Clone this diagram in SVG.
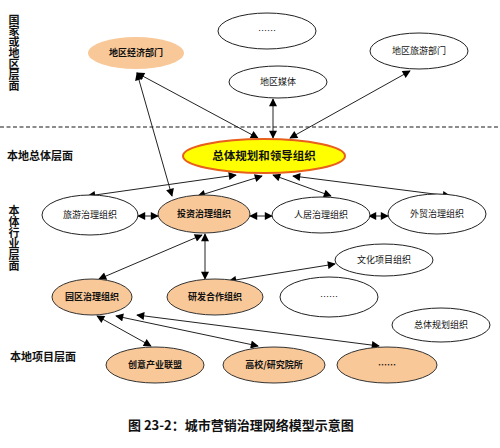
<svg xmlns="http://www.w3.org/2000/svg" width="500" height="448" viewBox="0 0 500 448">
<style>
text{font-family:"Noto Sans CJK SC","Noto Sans",sans-serif;fill:#111}
.lbl{font-size:11px;font-weight:bold}
.vert{writing-mode:vertical-rl;glyph-orientation-vertical:0}
.w ellipse{fill:#fff;stroke:#222;stroke-width:1}
.o ellipse{fill:#F9C898;stroke:#333;stroke-width:1}
.w text{font-size:9px;text-anchor:middle}
.o text{font-size:9px;font-weight:bold;text-anchor:middle}
.c line{stroke:#222;stroke-width:1;marker-end:url(#ah);marker-start:url(#ah)}
</style>
<defs>
<marker id="ah" viewBox="0 0 10 10" refX="9" refY="5" markerWidth="10" markerHeight="8" markerUnits="userSpaceOnUse" orient="auto-start-reverse">
<path d="M0,0 L10,5 L0,10 z" fill="#000"/>
</marker>
</defs>
<rect width="500" height="448" fill="#fff"/>
<!-- level labels -->
<text class="lbl vert" x="14" y="14">国家或地区层面</text>
<text class="lbl" x="7" y="160">本地总体层面</text>
<text class="lbl vert" x="14" y="205">本体行业层面</text>
<text class="lbl" x="10" y="361">本地项目层面</text>
<line x1="0" y1="127" x2="498" y2="127" stroke="#666" stroke-width="1.5" stroke-dasharray="4 2.5"/>
<!-- connectors -->
<g class="c" id="connectors">
<line x1="137" y1="73" x2="258" y2="138"/>
<line x1="137" y1="73" x2="172" y2="196"/>
<line x1="273" y1="99" x2="273" y2="138"/>
<line x1="410" y1="71" x2="290" y2="138"/>
<line x1="88" y1="196" x2="236" y2="175"/>
<line x1="198" y1="196" x2="262" y2="176"/>
<line x1="331" y1="196" x2="273" y2="175"/>
<line x1="450" y1="196" x2="293" y2="176"/>
<line x1="138" y1="216" x2="158" y2="216"/>
<line x1="250" y1="216" x2="272" y2="216"/>
<line x1="369" y1="216" x2="388" y2="216"/>
<line x1="205" y1="234" x2="205" y2="279"/>
<line x1="99" y1="279" x2="202" y2="235"/>
<line x1="229" y1="281" x2="335" y2="264"/>
<line x1="97" y1="316" x2="151" y2="346"/>
<line x1="116" y1="316" x2="258" y2="346"/>
<line x1="137" y1="315" x2="379" y2="346"/>
</g>
<!-- nodes -->
<g id="n-econ"><ellipse cx="136" cy="53" rx="48" ry="16" fill="#F9C898"/><text x="136" y="56" font-size="9" font-weight="bold" text-anchor="middle">地区经济部门</text></g>
<g id="n-dots1" class="w"><ellipse cx="267" cy="31" rx="49" ry="18"/><text x="267" y="34">……</text></g>
<g id="n-media" class="w"><ellipse cx="278" cy="82" rx="49" ry="16"/><text x="278" y="85">地区媒体</text></g>
<g id="n-tour" class="w"><ellipse cx="419" cy="51" rx="49" ry="18"/><text x="419" y="54">地区旅游部门</text></g>
<g id="n-lead"><ellipse cx="264" cy="156" rx="81" ry="17" fill="#FFFF00" stroke="#E8601C" stroke-width="2"/><text x="264" y="160" font-size="11.5" font-weight="bold" text-anchor="middle">总体规划和领导组织</text></g>
<g id="n-lvyou" class="w"><ellipse cx="90" cy="215" rx="48" ry="20"/><text x="90" y="218">旅游治理组织</text></g>
<g id="n-touzi" class="o"><ellipse cx="204" cy="214" rx="46" ry="19"/><text x="204" y="217">投资治理组织</text></g>
<g id="n-renju" class="w"><ellipse cx="321" cy="215" rx="49" ry="18"/><text x="321" y="218">人居治理组织</text></g>
<g id="n-waimao" class="w"><ellipse cx="437" cy="214" rx="49" ry="20"/><text x="437" y="217">外贸治理组织</text></g>
<g id="n-yuanqu" class="o"><ellipse cx="92" cy="297" rx="40" ry="18"/><text x="92" y="300">园区治理组织</text></g>
<g id="n-yanfa" class="o"><ellipse cx="215" cy="297" rx="48" ry="18"/><text x="215" y="300">研发合作组织</text></g>
<g id="n-wenhua" class="w"><ellipse cx="384" cy="260" rx="49" ry="16"/><text x="384" y="263">文化项目组织</text></g>
<g id="n-dots2" class="w"><ellipse cx="329" cy="297" rx="49" ry="20"/><text x="329" y="300">……</text></g>
<g id="n-zongti" class="w"><ellipse cx="441" cy="325" rx="49" ry="17"/><text x="441" y="328">总体规划组织</text></g>
<g id="n-chuangyi" class="o"><ellipse cx="155" cy="365" rx="49" ry="18"/><text x="155" y="368" font-weight="normal">创意产业联盟</text></g>
<g id="n-gaoxiao" class="o"><ellipse cx="274" cy="365" rx="51" ry="18"/><text x="274" y="368" font-weight="normal">高校/研究院所</text></g>
<g id="n-dots3" class="o"><ellipse cx="387" cy="365" rx="50" ry="18"/><text x="387" y="368" font-weight="normal">……</text></g>
<text x="128" y="430" font-size="13" font-weight="bold">图 23-2：城市营销治理网络模型示意图</text>
</svg>
